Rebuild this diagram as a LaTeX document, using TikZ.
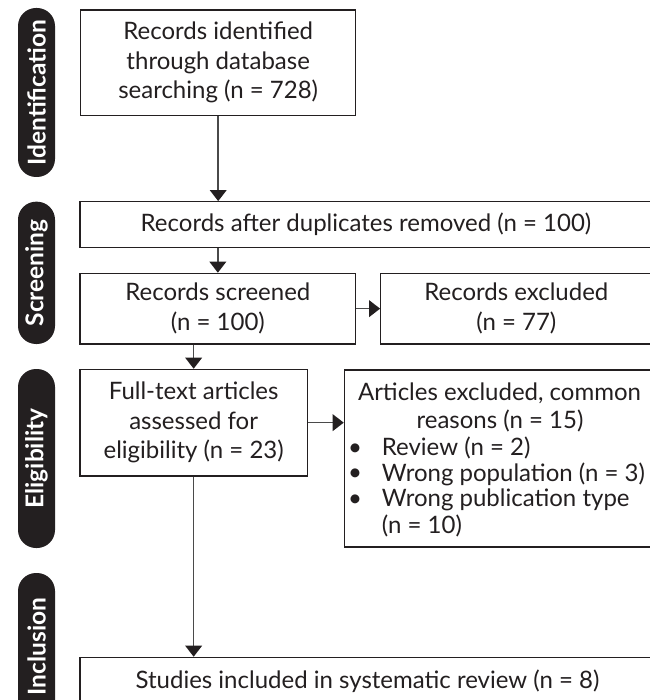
\documentclass[tikz,border=0pt]{standalone}
\usepackage{fontspec}
\setmainfont{Lato}
\usetikzlibrary{arrows.meta}
\definecolor{ink}{HTML}{231F20}
\definecolor{wire}{HTML}{4A4A4A}

\begin{document}
\begin{tikzpicture}[x=1pt,y=-1pt,
  box/.style={draw=ink, line width=1.2pt, fill=white, inner sep=0pt,
    font=\fontsize{24}{29.5}\selectfont, text=ink, align=center},
  phase/.style={fill=ink, rounded corners=18pt, inner sep=0pt, rotate=90,
    minimum height=37pt, text=white, font=\fontsize{24.5}{30}\selectfont\bfseries},
  flow/.style={draw=wire, line width=1.5pt,
    -{Triangle[width=17pt,length=11pt,fill=ink,line width=0pt]}},
  txt/.style={text=ink, inner sep=0pt, font=\fontsize{24}{29.5}\selectfont, align=center},
  listtxt/.style={txt, font=\fontsize{24}{25.6}\selectfont}
]
\useasboundingbox (0,0) rectangle (649,700);

% phase labels on the left
\node[phase, minimum width=169pt] (pId) at (36.5,92.5) {Identification};
\node[phase, minimum width=142.3pt] (pSc) at (36.5,272.85) {Screening};
\node[phase, minimum width=179pt] (pEl) at (36.5,458.5) {Eligibility};
\node[phase, minimum width=147pt] (pIn) at (36.5,646.5) {Inclusion};

% flow boxes
\node[box, minimum width=275pt, minimum height=105.7pt] (b1) at (218.2,62.85)
  {Records identified\\through database\\searching (n = 728)};
\node[box, minimum width=572pt, minimum height=46pt] (b2) at (366,224.7)
  {Records after duplicates removed (n = 100)};
\node[box, minimum width=275.7pt, minimum height=70.7pt] (b3) at (217.85,308.65)
  {Records screened\\(n = 100)};
\node[box, minimum width=271.3pt, minimum height=70.7pt] (b4) at (516.35,308.65)
  {Records excluded\\(n = 77)};
\node[box, minimum width=227.3pt, minimum height=106.7pt] (b5) at (193.65,422.65)
  {Full-text articles\\assessed for\\eligibility (n = 23)};
\node[box, minimum width=307.7pt, minimum height=177pt] (b6) at (498.15,458.5) {};
\node[box, minimum width=572pt, minimum height=60pt] (b7) at (366,687.3) {};

% contents of the exclusion box
\node[txt, anchor=base] (b6head1) at (499.5,400.7) {Articles excluded, common};
\node[txt, anchor=base] (b6head2) at (500,428.3) {reasons (n = 15)};
\node[listtxt, anchor=base] (b6dots) at (355,455)
  {\begin{tabular}[t]{@{}c@{}}\textbullet\\\textbullet\\\textbullet\end{tabular}};
\node[listtxt, anchor=base west] (b6list) at (381.7,455)
  {\begin{tabular}[t]{@{}l@{}}
    Review (n = 2)\\
    Wrong population (n = 3)\\
    Wrong publication type\\
    (n = 10)
  \end{tabular}};

% text of the final box
\node[txt, anchor=base] (b7text) at (367.5,688)
  {Studies included in systematic review (n = 8)};

% connectors
\draw[flow] (b1.south) -- (b1.south |- b2.north);
\draw[flow] (b3.north |- b2.south) -- (b3.north);
\draw[flow] (b3.east) -- (b3.east -| b4.west);
\draw[flow] (b5.north |- b3.south) -- (b5.north);
\draw[flow] (b5.east) -- (b5.east -| b6.west);
\draw[flow] (b5.south) -- (b5.south |- b7.north);
\end{tikzpicture}
\end{document}
